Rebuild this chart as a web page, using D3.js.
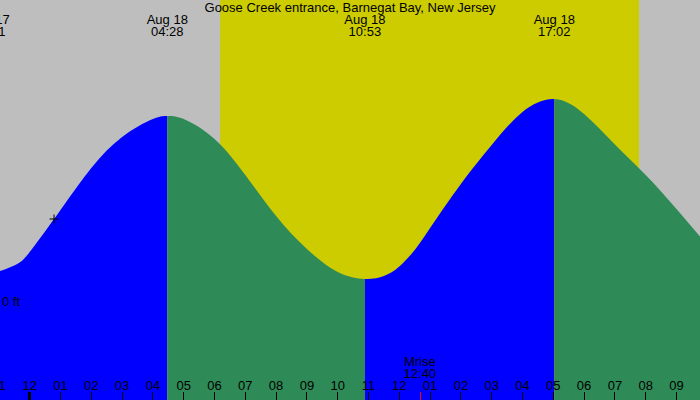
<!DOCTYPE html>
<html>
<head>
<meta charset="utf-8">
<script src="https://cdn.jsdelivr.net/npm/d3@7"></script>
<style>
  html, body { margin: 0; padding: 0; background: #bebebe; }
  svg { display: block; }
  text { font-family: "Liberation Sans", Arial, sans-serif; font-size: 13px; fill: #000; }
</style>
</head>
<body>
<svg id="chart" width="700" height="400"></svg>
<script>
// ---- data (hours relative to midnight Aug 18) ----
const title = "Goose Creek entrance, Barnegat Bay, New Jersey";

const sampleHours   = [-2, -1.317, -0.5, 0, 1, 2, 3, 4, 4.467, 5, 6, 7, 8, 9, 10, 10.883, 11.5, 12, 12.5, 13, 14, 15, 16, 17.033, 18, 19, 20, 21, 22];
const sampleHeights = [0.33, 0.277, 0.356, 0.49, 0.91, 1.33, 1.64, 1.82, 1.85, 1.82, 1.62, 1.26, 0.85, 0.52, 0.29, 0.22, 0.25, 0.345, 0.51, 0.73, 1.17, 1.56, 1.89, 2.02, 1.87, 1.565, 1.26, 0.92, 0.56];

const extremeHours  = [-1.317, 4.467, 10.883, 17.033];
const extremeTypes  = ["L", "H", "L", "H"];
const extremeDates  = ["Aug 17", "Aug 18", "Aug 18", "Aug 18"];
const extremeTimes  = ["22:41", "04:28", "10:53", "17:02"];

const sunriseHour = 6.183;   // 06:11
const sunsetHour  = 19.783;  // 19:47

const moonriseHour  = 12.667;
const moonriseLabel = ["Mrise", "12:40"];

const tickHours  = [-1,0,1,2,3,4,5,6,7,8,9,10,11,12,13,14,15,16,17,18,19,20,21];
const tickLabels = ["11","12","01","02","03","04","05","06","07","08","09","10","11","12","01","02","03","04","05","06","07","08","09"];

const markerHour = 0.79, markerHeight = 0.82;
const zeroLabel = "0 ft";

// ---- chart ----
const W = 700, H = 400;
const svg = d3.select("#chart");

const x = d3.scaleLinear().domain([-29.7 / 30.8, (700 - 29.7) / 30.8]).range([0, W]);
const y = d3.scaleLinear().domain([-0.99, 3.01]).range([H, 0]);

const colors = { night: "#bebebe", day: "#cccc00", rising: "#0000ff", falling: "#2e8b57" };

// background
svg.append("rect").attr("x", 0).attr("y", 0).attr("width", W).attr("height", H).attr("fill", colors.night);
svg.append("rect")
  .attr("x", x(sunriseHour)).attr("y", 0)
  .attr("width", x(sunsetHour) - x(sunriseHour)).attr("height", H)
  .attr("fill", colors.day);

// tide area split between extremes
const pts = sampleHours.map((h, i) => ({ h, v: sampleHeights[i] }));
const area = d3.area()
  .x(d => x(d.h))
  .y0(H)
  .y1(d => y(d.v))
  .curve(d3.curveNatural);

const defs = svg.append("defs");
extremeHours.forEach((h, i) => {
  const start = i === 0 ? x.domain()[0] - 2 : h;
  const end = i + 1 < extremeHours.length ? extremeHours[i + 1] : x.domain()[1] + 1;
  const rising = extremeTypes[i] === "L";
  const id = "seg" + i;
  defs.append("clipPath").attr("id", id)
    .append("rect")
    .attr("x", x(start)).attr("y", 0)
    .attr("width", x(end) - x(start)).attr("height", H);
  svg.append("path")
    .datum(pts)
    .attr("d", area)
    .attr("fill", rising ? colors.rising : colors.falling)
    .attr("clip-path", `url(#${id})`);
});

// title
svg.append("text").attr("x", W / 2).attr("y", 12).attr("text-anchor", "middle").text(title);

// extreme labels
extremeHours.forEach((h, i) => {
  svg.append("text").attr("x", x(h)).attr("y", 24).attr("text-anchor", "middle").text(extremeDates[i]);
  svg.append("text").attr("x", x(h)).attr("y", 36).attr("text-anchor", "middle").text(extremeTimes[i]);
});

// hour ticks + labels
tickHours.forEach((h, i) => {
  const px = Math.floor(x(h));
  const isMidnight = h === 0;
  svg.append("rect")
    .attr("x", isMidnight ? px - 1 : px).attr("y", 392)
    .attr("width", isMidnight ? 3 : 1).attr("height", 8)
    .attr("fill", "#000");
  svg.append("text").attr("x", x(h)).attr("y", 390).attr("text-anchor", "middle").text(tickLabels[i]);
});

// moonrise
svg.append("rect")
  .attr("x", Math.round(x(moonriseHour))).attr("y", 392)
  .attr("width", 1).attr("height", 8).attr("fill", "#ff0000");
svg.append("text").attr("x", x(moonriseHour)).attr("y", 366).attr("text-anchor", "middle").text(moonriseLabel[0]);
svg.append("text").attr("x", x(moonriseHour)).attr("y", 378).attr("text-anchor", "middle").text(moonriseLabel[1]);

// zero label
svg.append("text").attr("x", 2).attr("y", y(0) + 5).text(zeroLabel);

// marker
const mx = x(markerHour), my = y(markerHeight);
svg.append("path")
  .attr("d", `M${mx - 4.5},${my}H${mx + 4.5}M${mx},${my - 4.5}V${my + 4.5}`)
  .attr("stroke", "#000").attr("stroke-width", 1).attr("fill", "none");
</script>
</body>
</html>
